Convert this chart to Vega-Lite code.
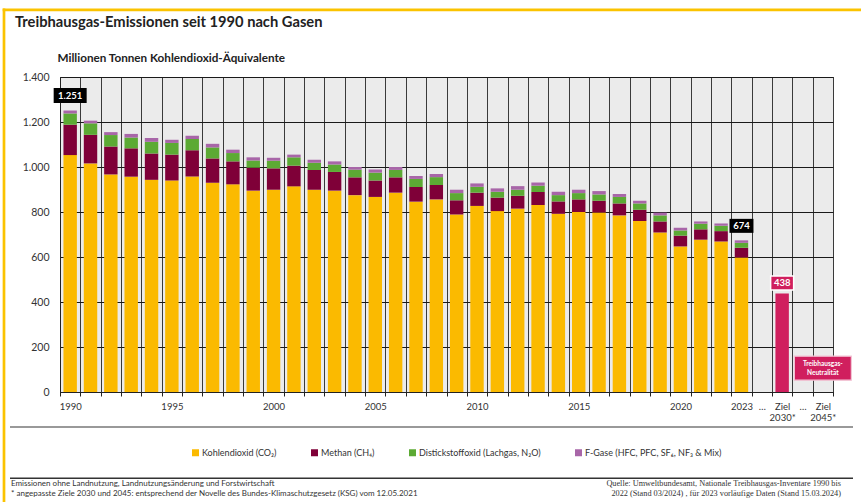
{
  "$schema": "https://vega.github.io/schema/vega-lite/v6.json",
  "width": 773,
  "height": 315,
  "autosize": {"type": "none"},
  "padding": {"left": 60, "top": 77, "right": 28, "bottom": 110},
  "background": "white",
  "config": {
    "font": "Lato",
    "locale": {"number": {"decimal": ",", "thousands": ".", "grouping": [3], "currency": ["", " €"]}},
    "view": {"fill": "#ebebeb", "stroke": "#222", "strokeWidth": 1}
  },
  "title": {
    "text": "Treibhausgas-Emissionen seit 1990 nach Gasen",
    "anchor": "start", "frame": "group", "dx": -45, "offset": 0, "dy": 35,
    "baseline": "alphabetic", "font": "Lato", "fontSize": 14.7, "fontWeight": "bold", "color": "#222"
  },
  "datasets": {
    "ziele": [
      {"Jahr": "Ziel 2030*", "value": 438, "label": "438"},
      {"Jahr": "Ziel 2045*", "value": 0, "label": "Treibhausgas-\nNeutralität"}
    ],
    "gasorder": [
      {"gas": "CO2", "rank": 1},
      {"gas": "CH4", "rank": 2},
      {"gas": "N2O", "rank": 3},
      {"gas": "F", "rank": 4}
    ]
  },
  "data": {"values": [
    {"Jahr":"1990","CO2":1053,"CH4":135,"N2O":50,"F":13},
    {"Jahr":"1991","CO2":1016,"CH4":127,"N2O":51,"F":12},
    {"Jahr":"1992","CO2":967,"CH4":124,"N2O":51,"F":13},
    {"Jahr":"1993","CO2":957,"CH4":126,"N2O":48,"F":16},
    {"Jahr":"1994","CO2":943,"CH4":117,"N2O":52,"F":17},
    {"Jahr":"1995","CO2":940,"CH4":115,"N2O":52,"F":14},
    {"Jahr":"1996","CO2":958,"CH4":116,"N2O":50,"F":15},
    {"Jahr":"1997","CO2":930,"CH4":108,"N2O":49,"F":16},
    {"Jahr":"1998","CO2":923,"CH4":102,"N2O":37,"F":15},
    {"Jahr":"1999","CO2":895,"CH4":102,"N2O":32,"F":14},
    {"Jahr":"2000","CO2":899,"CH4":95,"N2O":34,"F":13},
    {"Jahr":"2001","CO2":914,"CH4":92,"N2O":37,"F":12},
    {"Jahr":"2002","CO2":899,"CH4":88,"N2O":32,"F":13},
    {"Jahr":"2003","CO2":895,"CH4":83,"N2O":33,"F":14},
    {"Jahr":"2004","CO2":875,"CH4":79,"N2O":34,"F":12},
    {"Jahr":"2005","CO2":867,"CH4":73,"N2O":35,"F":14},
    {"Jahr":"2006","CO2":886,"CH4":68,"N2O":33,"F":13},
    {"Jahr":"2007","CO2":846,"CH4":65,"N2O":36,"F":13},
    {"Jahr":"2008","CO2":856,"CH4":64,"N2O":35,"F":14},
    {"Jahr":"2009","CO2":789,"CH4":63,"N2O":32,"F":15},
    {"Jahr":"2010","CO2":827,"CH4":59,"N2O":26,"F":15},
    {"Jahr":"2011","CO2":804,"CH4":60,"N2O":26,"F":15},
    {"Jahr":"2012","CO2":815,"CH4":57,"N2O":27,"F":16},
    {"Jahr":"2013","CO2":831,"CH4":58,"N2O":28,"F":14},
    {"Jahr":"2014","CO2":792,"CH4":55,"N2O":28,"F":15},
    {"Jahr":"2015","CO2":800,"CH4":56,"N2O":28,"F":15},
    {"Jahr":"2016","CO2":798,"CH4":52,"N2O":28,"F":15},
    {"Jahr":"2017","CO2":785,"CH4":53,"N2O":29,"F":13},
    {"Jahr":"2018","CO2":760,"CH4":50,"N2O":28,"F":12},
    {"Jahr":"2019","CO2":709,"CH4":49,"N2O":27,"F":12},
    {"Jahr":"2020","CO2":647,"CH4":48,"N2O":23,"F":12},
    {"Jahr":"2021","CO2":677,"CH4":46,"N2O":25,"F":10},
    {"Jahr":"2022","CO2":669,"CH4":46,"N2O":24,"F":10},
    {"Jahr":"2023","CO2":598,"CH4":43,"N2O":22,"F":11}
  ]},
  "layer": [
    {
      "transform": [
        {"fold": ["CO2", "CH4", "N2O", "F"], "as": ["gas", "value"]},
        {"lookup": "gas", "from": {"data": {"name": "gasorder"}, "key": "gas", "fields": ["rank"]}}
      ],
      "mark": {"type": "bar", "width": {"band": 0.66}},
      "encoding": {
        "x": {
          "field": "Jahr", "type": "nominal",
          "scale": {"domain": ["1990","1991","1992","1993","1994","1995","1996","1997","1998","1999","2000","2001","2002","2003","2004","2005","2006","2007","2008","2009","2010","2011","2012","2013","2014","2015","2016","2017","2018","2019","2020","2021","2022","2023","d1","Ziel 2030*","d2","Ziel 2045*"], "paddingInner": 0, "paddingOuter": 0},
          "axis": {
            "title": null, "tickBand": "extent", "grid": true, "gridColor": "#3a3a3a", "gridWidth": 1, "gridOpacity": 1,
            "domainColor": "#222", "tickColor": "#222", "tickSize": 4, "labelPadding": 5, "labelAngle": 0,
            "labelOverlap": false, "labelFlush": false, "labelFont": "Lato", "labelFontSize": 9.5, "labelColor": "#333", "labelLineHeight": 11,
            "labelExpr": "indexof(['1990','1995','2000','2005','2010','2015','2020','2023'], datum.value) >= 0 ? datum.value : (datum.value == 'd1' || datum.value == 'd2') ? '…' : datum.value == 'Ziel 2030*' ? ['Ziel', '2030*'] : datum.value == 'Ziel 2045*' ? ['Ziel', '2045*'] : ''"
          }
        },
        "y": {
          "field": "value", "type": "quantitative", "stack": "zero",
          "scale": {"domain": [0, 1400], "nice": false},
          "axis": {
            "values": [0, 200, 400, 600, 800, 1000, 1200, 1400], "format": ",.0f",
            "grid": true, "gridColor": "#1a1a1a", "gridWidth": 1, "gridOpacity": 1,
            "ticks": false, "labelPadding": 11, "domainColor": "#222",
            "labelFont": "Lato", "labelFontSize": 10.5, "labelColor": "#333",
            "title": "Millionen Tonnen Kohlendioxid-Äquivalente", "titleAngle": 0, "titleX": -3, "titleY": -15.5,
            "titleAlign": "left", "titleBaseline": "alphabetic", "titleFont": "Lato", "titleFontSize": 11.7, "titleFontWeight": "bold", "titleColor": "#222"
          }
        },
        "order": {"field": "rank", "type": "quantitative", "sort": "ascending"},
        "color": {
          "field": "gas", "type": "nominal", "sort": ["CO2", "CH4", "N2O", "F"],
          "scale": {"domain": ["CO2", "CH4", "N2O", "F"], "range": ["#fbba00", "#7f0038", "#5caa34", "#a866a8"]},
          "legend": {
            "orient": "none", "legendX": 131, "legendY": 371, "direction": "horizontal", "columns": 4, "columnPadding": 33,
            "title": null, "symbolType": "square", "symbolSize": 49, "symbolStrokeWidth": 0, "labelOffset": 2,
            "labelFont": "Lato", "labelFontSize": 9, "labelColor": "#333", "labelLimit": 300,
            "labelExpr": "datum.label == 'CO2' ? 'Kohlendioxid (CO₂)' : datum.label == 'CH4' ? 'Methan (CH₄)' : datum.label == 'N2O' ? 'Distickstoffoxid (Lachgas, N₂O)' : 'F-Gase (HFC, PFC, SF₆, NF₃ & Mix)'"
          }
        }
      }
    },
    {
      "data": {"name": "ziele"},
      "transform": [{"filter": "datum.Jahr == 'Ziel 2030*'"}],
      "mark": {"type": "bar", "width": {"band": 0.66}, "color": "#d01f5e"},
      "encoding": {
        "x": {"field": "Jahr", "type": "nominal"},
        "y": {"field": "value", "type": "quantitative"}
      }
    },
    {
      "transform": [
        {"fold": ["CO2", "CH4", "N2O", "F"], "as": ["gas", "value"]},
        {"aggregate": [{"op": "sum", "field": "value", "as": "total"}], "groupby": ["Jahr"]},
        {"filter": "datum.Jahr == '1990'"}
      ],
      "layer": [
        {"mark": {"type": "point", "shape": "M-1,-0.4545H1V0.4545H-1Z", "size": 1089, "filled": true, "color": "#000", "opacity": 1, "yOffset": -15}},
        {"mark": {"type": "text", "color": "white", "font": "Lato", "fontSize": 9.5, "fontWeight": "bold", "baseline": "middle", "yOffset": -15},
         "encoding": {"text": {"field": "total", "type": "quantitative", "format": ",.0f"}}}
      ],
      "encoding": {
        "x": {"field": "Jahr", "type": "nominal"},
        "y": {"field": "total", "type": "quantitative"}
      }
    },
    {
      "transform": [
        {"fold": ["CO2", "CH4", "N2O", "F"], "as": ["gas", "value"]},
        {"aggregate": [{"op": "sum", "field": "value", "as": "total"}], "groupby": ["Jahr"]},
        {"filter": "datum.Jahr == '2023'"}
      ],
      "layer": [
        {"mark": {"type": "point", "shape": "M-1,-0.5833H1V0.5833H-1Z", "size": 576, "filled": true, "color": "#000", "opacity": 1, "yOffset": -14.5}},
        {"mark": {"type": "text", "color": "white", "font": "Lato", "fontSize": 9.5, "fontWeight": "bold", "baseline": "middle", "yOffset": -14.5},
         "encoding": {"text": {"field": "total", "type": "quantitative", "format": ",.0f"}}}
      ],
      "encoding": {
        "x": {"field": "Jahr", "type": "nominal"},
        "y": {"field": "total", "type": "quantitative"}
      }
    },
    {
      "data": {"name": "ziele"},
      "transform": [{"filter": "datum.Jahr == 'Ziel 2030*'"}],
      "layer": [
        {"mark": {"type": "point", "shape": "M-1,-0.6087H1V0.6087H-1Z", "size": 529, "filled": true, "color": "#d01f5e", "opacity": 1, "stroke": "white", "strokeWidth": 1.5, "yOffset": -10.4}},
        {"mark": {"type": "text", "color": "white", "font": "Lato", "fontSize": 9.5, "fontWeight": "bold", "baseline": "middle", "yOffset": -10.4},
         "encoding": {"text": {"field": "label", "type": "nominal"}}}
      ],
      "encoding": {
        "x": {"field": "Jahr", "type": "nominal"},
        "y": {"field": "value", "type": "quantitative"}
      }
    },
    {
      "data": {"name": "ziele"},
      "transform": [{"filter": "datum.Jahr == 'Ziel 2045*'"}],
      "layer": [
        {"mark": {"type": "point", "shape": "M-1,-0.421H1V0.421H-1Z", "size": 3249, "filled": true, "color": "#d01f5e", "opacity": 1, "stroke": "#f3c6d6", "strokeWidth": 1.2, "yOffset": -23.8}},
        {"mark": {"type": "text", "color": "white", "font": "Lato", "fontSize": 6.5, "fontWeight": "bold", "baseline": "middle", "lineBreak": "\n", "lineHeight": 9.3, "yOffset": -28.4},
         "encoding": {"text": {"field": "label", "type": "nominal"}}}
      ],
      "encoding": {
        "x": {"field": "Jahr", "type": "nominal"},
        "y": {"field": "value", "type": "quantitative"}
      }
    },
    {
      "data": {"values": [{}]},
      "mark": {"type": "rule", "color": "#fbc300", "strokeWidth": 2.7},
      "encoding": {"x": {"value": -57.3}, "x2": {"value": 801}, "y": {"value": -67.2}}
    },
    {
      "data": {"values": [{}]},
      "mark": {"type": "rule", "color": "#fbc300", "strokeWidth": 2.7},
      "encoding": {"x": {"value": -56}, "y": {"value": -68.5}, "y2": {"value": 425}}
    },
    {
      "data": {"values": [{}]},
      "mark": {"type": "rule", "color": "#777", "strokeWidth": 1.3},
      "encoding": {"x": {"value": -50}, "x2": {"value": 793}, "y": {"value": 350}}
    },
    {
      "data": {"values": [{}]},
      "mark": {"type": "rule", "color": "#333", "strokeWidth": 1.5},
      "encoding": {"x": {"value": -50}, "x2": {"value": 793}, "y": {"value": 401.3}}
    },
    {
      "data": {"values": [{}]},
      "mark": {"type": "text", "align": "left", "baseline": "alphabetic", "font": "Lato", "fontSize": 8, "color": "#333", "lineHeight": 10,
               "text": ["Emissionen ohne Landnutzung, Landnutzungsänderung und Forstwirtschaft", "* angepasste Ziele 2030 und 2045: entsprechend der Novelle des Bundes-Klimaschutzgesetz (KSG) vom 12.05.2021"]},
      "encoding": {"x": {"value": -49}, "y": {"value": 409}}
    },
    {
      "data": {"values": [{}]},
      "mark": {"type": "text", "align": "right", "baseline": "alphabetic", "font": "Liberation Serif", "fontSize": 8.25, "color": "#333", "lineHeight": 10,
               "text": ["Quelle: Umweltbundesamt, Nationale Treibhausgas-Inventare 1990 bis", "2022 (Stand 03/2024) , für 2023 vorläufige Daten (Stand 15.03.2024)"]},
      "encoding": {"x": {"value": 781}, "y": {"value": 409}}
    }
  ]
}
